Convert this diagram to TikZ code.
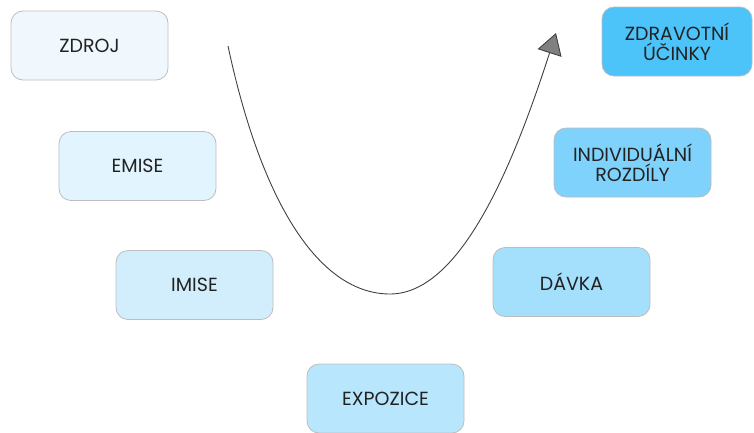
\documentclass[tikz,border=0pt]{standalone}
\usepackage{fontspec}
\setmainfont{Poppins}
\usetikzlibrary{arrows.meta}

\definecolor{lineg}{HTML}{BDBDBD}
\definecolor{txt}{HTML}{222222}
\definecolor{c1}{HTML}{F0F8FE}
\definecolor{c2}{HTML}{E2F4FD}
\definecolor{c3}{HTML}{D2EEFC}
\definecolor{c4}{HTML}{B8E6FD}
\definecolor{c5}{HTML}{A4DFFC}
\definecolor{c6}{HTML}{7FD2FB}
\definecolor{c7}{HTML}{4CC3F9}

\begin{document}
\begin{tikzpicture}[x=1pt,y=-1pt]
    \tikzstyle{stage}=[draw=lineg, line width=0.8pt, rounded corners=12pt,
        minimum width=157pt, minimum height=69pt, inner sep=0pt,
        align=center, text=txt, font=\fontsize{19}{20}\selectfont]
    \useasboundingbox (0,0) rectangle (754,432);
    % stages, source to effects
    \node [stage, fill=c1] (zdroj) at (89.5,45.5) {ZDROJ};
    \node [stage, fill=c2] (emise) at (137.5,166) {EMISE};
    \node [stage, fill=c3] (imise) at (194.5,285) {IMISE};
    \node [stage, fill=c4] (expozice) at (385.5,398.5) {EXPOZICE};
    \node [stage, fill=c5] (davka) at (571.5,282) {DÁVKA};
    \node [stage, fill=c6] (rozdily) at (632.5,162.5) {INDIVIDUÁLNÍ\\ROZDÍLY};
    \node [stage, fill=c7, minimum width=150pt] (ucinky) at (677,41.5) {ZDRAVOTNÍ\\ÚČINKY};
    % the U-shaped arrow
    \coordinate (start) at (228,46);
    \coordinate (bottom) at (390,294);
    \coordinate (tip) at (556,33);
    \draw [black!75, line width=0.9pt,
        -{Triangle[length=21pt,width=25pt,fill=black!50]}]
        (start) .. controls (262,205) and (320,294) .. (bottom)
        .. controls (462,294) and (515,160) .. (tip);
\end{tikzpicture}
\end{document}
